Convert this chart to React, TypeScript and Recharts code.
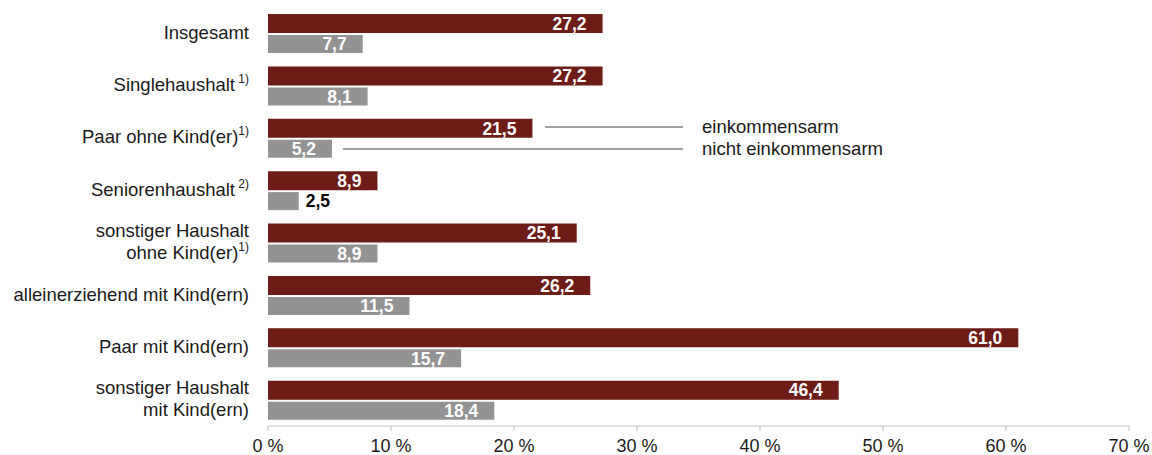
import React from 'react';
import { BarChart, Bar, XAxis, YAxis, LabelList } from 'recharts';

const categories = [
  'Insgesamt',
  'Singlehaushalt',
  'Paar ohne Kind(er)',
  'Seniorenhaushalt',
  'sonstiger Haushalt\nohne Kind(er)',
  'alleinerziehend mit Kind(ern)',
  'Paar mit Kind(ern)',
  'sonstiger Haushalt\nmit Kind(ern)',
];
const footnotes = ['', ' 1)', '1)', ' 2)', '1)', '', '', ''];
const poorValues = [27.2, 27.2, 21.5, 8.9, 25.1, 26.2, 61.0, 46.4];
const notPoorValues = [7.7, 8.1, 5.2, 2.5, 8.9, 11.5, 15.7, 18.4];
const xTicks = [0, 10, 20, 30, 40, 50, 60, 70];
const seriesNames = ['einkommensarm', 'nicht einkommensarm'];

const data = categories.map((name, i) => ({
  name,
  poor: poorValues[i],
  notPoor: notPoorValues[i],
}));

const RED = '#6d1c17';
const GRAY = '#939393';
const TEXT = '#1a1a1a';

const CategoryTick = (props: any) => {
  const { x, y, payload } = props;
  const idx = categories.indexOf(payload.value);
  const lines: string[] = String(payload.value).split('\n');
  const note = footnotes[idx] || '';
  const lineH = 22;
  const startY = y - 1 - ((lines.length - 1) * lineH) / 2;
  return (
    <g>
      {lines.map((ln, i) => (
        <text
          key={i}
          x={x}
          y={startY + i * lineH}
          dy="0.35em"
          textAnchor="end"
          fontSize={18.5}
          fill={TEXT}
        >
          {ln}
          {i === lines.length - 1 && note ? (
            <tspan fontSize={12} dy={-8}>{note}</tspan>
          ) : null}
        </text>
      ))}
    </g>
  );
};

const ValueLabel = (props: any) => {
  const { x, y, width, height, value } = props;
  const text = Number(value).toFixed(1).replace('.', ',');
  const end = x + width;
  // short bars get their label outside, in black
  const inside = width > 40;
  return (
    <text
      x={inside ? end - 16 : end + 7}
      y={y + height / 2}
      dy="0.36em"
      textAnchor={inside ? 'end' : 'start'}
      fill={inside ? '#ffffff' : '#000000'}
      fontWeight="bold"
      fontSize={17.5}
    >
      {text}
    </text>
  );
};

export default function App() {
  return (
    <div
      style={{
        position: 'absolute',
        left: 0,
        top: 0,
        width: 1152,
        height: 455,
        background: '#fff',
        fontFamily: "'Liberation Sans', Arial, sans-serif",
      }}
    >
      <BarChart
        width={1152}
        height={455}
        data={data}
        layout="vertical"
        margin={{ top: 7, right: 23, bottom: 0, left: 0 }}
        barGap={2}
      >
        <XAxis
          type="number"
          domain={[0, 70]}
          ticks={xTicks}
          interval={0}
          tickFormatter={(v) => `${v} %`}
          stroke="#bfbfbf"
          tickSize={5}
          tickMargin={8}
          height={29}
          tick={{ fill: TEXT, fontSize: 18 }}
        />
        <YAxis
          type="category"
          dataKey="name"
          width={268}
          axisLine={false}
          tickLine={false}
          tickSize={0}
          tickMargin={19}
          interval={0}
          tick={<CategoryTick />}
        />
        <Bar dataKey="poor" fill={RED} barSize={19} isAnimationActive={false}>
          <LabelList dataKey="poor" content={<ValueLabel />} />
        </Bar>
        <Bar dataKey="notPoor" fill={GRAY} barSize={18} isAnimationActive={false}>
          <LabelList dataKey="notPoor" content={<ValueLabel />} />
        </Bar>
      </BarChart>
      <svg
        width={1152}
        height={455}
        style={{ position: 'absolute', left: 0, top: 0, pointerEvents: 'none' }}
      >
        <line x1={545} y1={127} x2={683} y2={127} stroke="#404040" strokeWidth={1} />
        <line x1={343} y1={149} x2={683} y2={149} stroke="#404040" strokeWidth={1} />
        <text x={702} y={127} dy="0.35em" fontSize={18.5} fill={TEXT}>{seriesNames[0]}</text>
        <text x={702} y={149} dy="0.35em" fontSize={18.5} fill={TEXT}>{seriesNames[1]}</text>
      </svg>
    </div>
  );
}
